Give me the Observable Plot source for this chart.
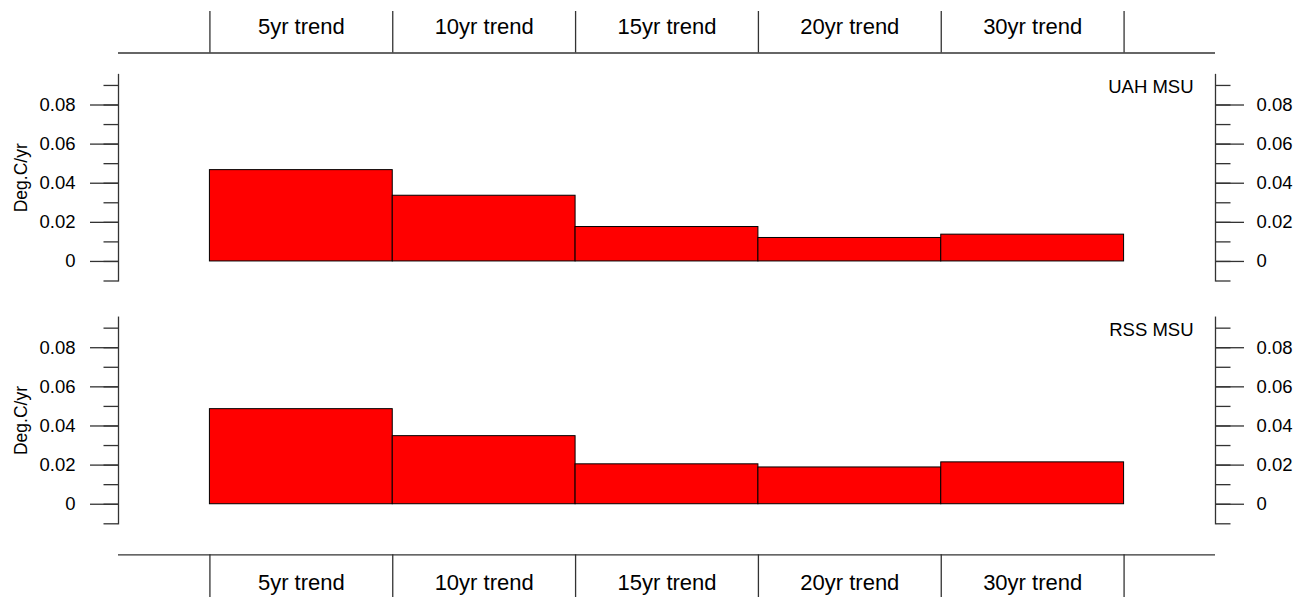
<!DOCTYPE html>
<html>
<head>
<meta charset="utf-8">
<script src="https://cdn.jsdelivr.net/npm/d3@7"></script>
<script src="https://cdn.jsdelivr.net/npm/@observablehq/plot@0.6"></script>
<style>
  html, body { margin: 0; padding: 0; background: white; }
  #chart { width: 1309px; height: 597px; display: flex; flex-direction: column; }
  #chart svg { display: block; }
</style>
</head>
<body>
<div id="chart"></div>
<script>
// ---- data ----
const categories = ["5yr trend", "10yr trend", "15yr trend", "20yr trend", "30yr trend"];
const panels = ["UAH MSU", "RSS MSU"];
const uahValues = [0.0467, 0.0336, 0.0176, 0.0120, 0.0137];
const rssValues = [0.0486, 0.0348, 0.0204, 0.0188, 0.0214];
const yTicks = [0, 0.02, 0.04, 0.06, 0.08];
const yTickLabels = ["0", "0.02", "0.04", "0.06", "0.08"];
const yMinorTicks = [-0.01, 0, 0.01, 0.02, 0.03, 0.04, 0.05, 0.06, 0.07, 0.08, 0.09];
const yLabel = "Deg.C/yr";

const font = "'Liberation Sans', Arial, Helvetica, sans-serif";
const axisColor = "#333";
const yDomain = [-0.01, 0.0956];
const xDomain = [0, categories.length + 1];
const edges = [...categories.map((c, i) => i + 0.5), categories.length + 0.5];

function panel(name, values, opts) {
  const rows = categories.map((c, i) => ({cat: c, i, value: values[i]}));
  const panelH = opts.height - opts.marginTop - opts.marginBottom;
  const stripMarks = opts.strip === "top" ? [
    Plot.ruleY([yDomain[1]], {dy: -21.5, stroke: axisColor, strokeWidth: 1.3}),
    Plot.ruleX(edges, {x: d => d, dy: -63, insetBottom: panelH - 41.5, stroke: axisColor, strokeWidth: 1.3}),
    Plot.text(categories, {x: (d, i) => i + 1, text: d => d, frameAnchor: "top", dy: -48,
      lineAnchor: "middle", fontSize: 22, fill: "black"})
  ] : [
    Plot.ruleY([yDomain[0]], {dy: 31, stroke: axisColor, strokeWidth: 1.3}),
    Plot.ruleX(edges, {x: d => d, dy: 237.6, insetBottom: panelH - 43, stroke: axisColor, strokeWidth: 1.3}),
    Plot.text(categories, {x: (d, i) => i + 1, text: d => d, frameAnchor: "bottom", dy: 59.5,
      lineAnchor: "middle", fontSize: 22, fill: "black"})
  ];
  return Plot.plot({
    width: 1309,
    height: opts.height,
    marginTop: opts.marginTop,
    marginBottom: opts.marginBottom,
    marginLeft: 118,
    marginRight: 94,
    style: {fontFamily: font, background: "white", overflow: "visible"},
    x: {type: "linear", domain: xDomain, axis: null},
    y: {domain: yDomain},
    marks: [
      Plot.rectY(rows, {x1: d => d.i + 0.5, x2: d => d.i + 1.5, y1: 0, y2: "value",
        fill: "#ff0000", stroke: "black", strokeWidth: 1}),
      Plot.frame({anchor: "left", stroke: axisColor, strokeWidth: 1.3}),
      Plot.frame({anchor: "right", stroke: axisColor, strokeWidth: 1.3}),
      Plot.axisY(yMinorTicks, {anchor: "left", tickSize: 14.5, text: null, label: null, stroke: axisColor, strokeWidth: 1.3}),
      Plot.axisY(yMinorTicks, {anchor: "right", tickSize: 14.5, text: null, label: null, stroke: axisColor, strokeWidth: 1.3}),
      Plot.axisY(yTicks, {anchor: "left", tickSize: 28, tickPadding: 15, label: null, fontSize: 18.5,
        tickFormat: d => yTickLabels[yTicks.indexOf(d)], stroke: axisColor, strokeWidth: 1.3, fill: "black"}),
      Plot.axisY(yTicks, {anchor: "right", tickSize: 28, tickPadding: 13, label: null, fontSize: 18.5,
        tickFormat: d => yTickLabels[yTicks.indexOf(d)], stroke: axisColor, strokeWidth: 1.3, fill: "black"}),
      Plot.text([yLabel], {frameAnchor: "left", rotate: -90, dx: -97, textAnchor: "middle",
        lineAnchor: "middle", fontSize: 17.5, fill: "black"}),
      Plot.text([name], {frameAnchor: "top-right", dx: -22, dy: 13, textAnchor: "end",
        lineAnchor: "middle", fontSize: 18.5, fill: "black"}),
      ...stripMarks
    ]
  });
}

const chart = document.getElementById("chart");
chart.append(panel(panels[0], uahValues, {height: 298, marginTop: 74, marginBottom: 17.5, strip: "top"}));
chart.append(panel(panels[1], rssValues, {height: 299, marginTop: 18.7, marginBottom: 73.7, strip: "bottom"}));
</script>
</body>
</html>
